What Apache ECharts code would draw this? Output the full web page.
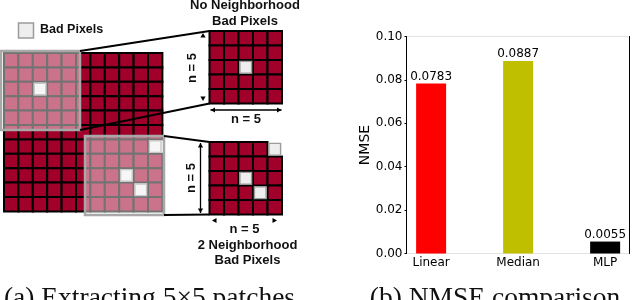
<!DOCTYPE html>
<html><head><meta charset="utf-8">
<script src="https://cdn.jsdelivr.net/npm/echarts@6/dist/echarts.min.js"></script>
<style>html,body{margin:0;padding:0;background:#fff}#c{width:632px;height:300px}</style>
</head><body><div id="c"></div><script>
// ---- bar chart data ----
const methods = ['Linear', 'Median', 'MLP'];
const nmse = [0.0783, 0.0887, 0.0055];
const barColors = ['#ff0000', '#bfbf00', '#000000'];
const yTickStep = 0.02;
const yMax = 0.10;

// ---- diagram data ----
const bigGridSize = 11;
const patchSize = 5;
const patchOrigins = [[0, 0], [6, 6]];            // top-left cell (row, col) of each patch
const bigBadPixels = [[2, 2], [6, 10], [8, 8], [9, 9]];

// ---- layout (pixel space of the diagram grid) ----
const L = {
  big: { x: 4, y: 53, p: 14.4 },
  patches: [{ x: 209.5, y: 31, p: 14.5 }, { x: 209.5, y: 142, p: 14.5 }],
  boxes: [{ x: 1, y: 51, w: 79, h: 79 }, { x: 85, y: 136, w: 79, h: 79 }],
  arrows: [
    { x1: 203, y1: 33, x2: 203, y2: 101, shaft: false },
    { x1: 210.5, y1: 110, x2: 281.5, y2: 110, shaft: true },
    { x1: 200.5, y1: 143, x2: 200.5, y2: 213, shaft: true },
    { x1: 212, y1: 220.5, x2: 277, y2: 220.5, shaft: false }
  ]
};

const isBad = (r, c) => bigBadPixels.some(b => b[0] === r && b[1] === c);

// cell items: [gridKind, row, col, bad]
const cellData = [];
const badCells = [];
for (let r = 0; r < bigGridSize; r++) for (let c = 0; c < bigGridSize; c++) {
  (isBad(r, c) ? badCells : cellData).push([0, r, c, isBad(r, c) ? 1 : 0]);
}
patchOrigins.forEach((o, k) => {
  for (let r = 0; r < patchSize; r++) for (let c = 0; c < patchSize; c++) {
    const b = isBad(o[0] + r, o[1] + c);
    (b ? badCells : cellData).push([k + 1, r, c, b ? 1 : 0]);
  }
});
const allCells = cellData.concat(badCells);

function cellItem(params, api) {
  const g = api.value(0), r = api.value(1), c = api.value(2), bad = api.value(3);
  const G = g === 0 ? L.big : L.patches[g - 1];
  const p0 = api.coord([G.x + c * G.p, G.y + r * G.p]);
  const p1 = api.coord([G.x + (c + 1) * G.p, G.y + (r + 1) * G.p]);
  if (bad) {
    const ins = 1.4;
    return { type: 'rect', shape: { x: p0[0] + ins, y: p0[1] + ins, width: p1[0] - p0[0] - 2 * ins, height: p1[1] - p0[1] - 2 * ins },
      style: { fill: '#eeeeee', stroke: '#9c9c9c', lineWidth: 1.4 } };
  }
  return { type: 'rect', shape: { x: p0[0], y: p0[1], width: p1[0] - p0[0], height: p1[1] - p0[1] },
    style: { fill: '#a0002a', stroke: '#000', lineWidth: 2 } };
}

function boxItem(params, api) {
  const B = L.boxes[api.value(0)];
  const p0 = api.coord([B.x, B.y]);
  const p1 = api.coord([B.x + B.w, B.y + B.h]);
  return { type: 'rect', shape: { x: p0[0], y: p0[1], width: p1[0] - p0[0], height: p1[1] - p0[1] },
    style: { fill: 'rgba(255,255,255,0.45)', stroke: '#a8a8a8', lineWidth: 2.5 } };
}

function connectorItem(params, api) {
  const k = api.value(0);
  const B = L.boxes[k], P = L.patches[k];
  const size = P.p * patchSize;
  const a = api.coord([B.x + B.w, B.y]), b = api.coord([P.x, P.y]);
  const c = api.coord([B.x + B.w, B.y + B.h]), d = api.coord([P.x, P.y + size]);
  return { type: 'group', children: [
    { type: 'line', shape: { x1: a[0], y1: a[1], x2: b[0], y2: b[1] }, style: { stroke: '#000', lineWidth: 2 } },
    { type: 'line', shape: { x1: c[0], y1: c[1], x2: d[0], y2: d[1] }, style: { stroke: '#000', lineWidth: 2 } }
  ] };
}

function arrowItem(params, api) {
  const A = L.arrows[api.value(0)];
  const s = api.coord([A.x1, A.y1]), e = api.coord([A.x2, A.y2]);
  const dx = e[0] - s[0], dy = e[1] - s[1];
  const len = Math.hypot(dx, dy), ux = dx / len, uy = dy / len;
  const hl = 4.5, hw = 2.6;
  const head = (tip, sx, sy) => ({ type: 'polygon', shape: { points: [
    [tip[0], tip[1]],
    [tip[0] - sx * hl - sy * hw, tip[1] - sy * hl + sx * hw],
    [tip[0] - sx * hl + sy * hw, tip[1] - sy * hl - sx * hw]
  ] }, style: { fill: '#000' } });
  const ch = [head(e, ux, uy), head(s, -ux, -uy)];
  if (A.shaft) ch.push({ type: 'line', shape: { x1: s[0], y1: s[1], x2: e[0], y2: e[1] }, style: { stroke: '#000', lineWidth: 1.3 } });
  return { type: 'group', children: ch };
}

const boldFont = 'bold 13px "Liberation Sans", Arial, sans-serif';
function txt(text, x, y, opts = {}) {
  return { type: 'text', x, y, rotation: opts.rot || 0, z: 100,
    style: { text, font: opts.font || boldFont, fill: '#111', align: opts.align || 'center', verticalAlign: 'middle',
      textAlign: opts.align || 'center', textVerticalAlign: 'middle' } };
}
const serif = '27.5px "Liberation Serif", "Times New Roman", serif';
const dejavu = '"DejaVu Sans", sans-serif';

const chart = echarts.init(document.getElementById('c'), null, { renderer: 'canvas' });
chart.setOption({
  animation: false,
  backgroundColor: '#fff',
  grid: [
    { left: 406.5, top: 36.5, width: 223, height: 217, show: false, containLabel: false, outerBoundsMode: 'none' },
    { left: 0, top: 0, width: 340, height: 300, show: false, containLabel: false, outerBoundsMode: 'none' }
  ],
  xAxis: [
    { gridIndex: 0, type: 'value', min: -0.283, max: 2.28, position: 'bottom',
      axisLine: { show: true, onZero: false, lineStyle: { color: '#e3e3e3', width: 1 } },
      axisTick: { show: false }, splitLine: { show: false },
      axisLabel: { customValues: [0, 1, 2], formatter: v => methods[Math.round(v)], margin: 3,
        color: '#000', fontSize: 12, fontFamily: dejavu } },
    { gridIndex: 0, type: 'value', min: -0.283, max: 2.28, position: 'top',
      axisLine: { show: true, onZero: false, lineStyle: { color: '#e3e3e3', width: 1 } },
      axisTick: { show: false }, splitLine: { show: false }, axisLabel: { show: false } },
    { gridIndex: 1, type: 'value', min: 0, max: 340, show: false }
  ],
  yAxis: [
    { gridIndex: 0, type: 'value', min: 0, max: yMax, interval: yTickStep, position: 'left', z: 5,
      name: 'NMSE', nameLocation: 'middle', nameGap: 34, nameRotate: 90,
      nameTextStyle: { color: '#000', fontSize: 14, fontFamily: dejavu },
      axisLine: { show: true, onZero: false, lineStyle: { color: '#000', width: 1 } },
      axisTick: { show: true, length: 2, lineStyle: { color: '#000' } },
      splitLine: { show: false },
      axisLabel: { formatter: v => v.toFixed(2), margin: 4, color: '#000', fontSize: 12, fontFamily: dejavu } },
    { gridIndex: 0, type: 'value', min: 0, max: yMax, position: 'right', z: 5,
      axisLine: { show: true, onZero: false, lineStyle: { color: '#000', width: 1 } },
      axisTick: { show: false }, axisLabel: { show: false }, splitLine: { show: false } },
    { gridIndex: 1, type: 'value', min: 0, max: 300, inverse: true, show: false }
  ],
  series: [
    { type: 'bar', xAxisIndex: 0, yAxisIndex: 0, barWidth: 30,
      data: nmse.map((v, i) => ({ value: [i, v], itemStyle: { color: barColors[i] } })),
      label: { show: true, position: 'top', distance: 1, color: '#000', fontSize: 12, fontFamily: dejavu,
        formatter: p => p.value[1].toFixed(4) } },
    { type: 'custom', xAxisIndex: 2, yAxisIndex: 2, renderItem: cellItem, data: allCells, z: 2 },
    { type: 'custom', xAxisIndex: 2, yAxisIndex: 2, renderItem: boxItem, data: [[0], [1]], z: 3 },
    { type: 'custom', xAxisIndex: 2, yAxisIndex: 2, renderItem: connectorItem, data: [[0], [1]], z: 4 },
    { type: 'custom', xAxisIndex: 2, yAxisIndex: 2, renderItem: arrowItem, data: L.arrows.map((a, i) => [i]), z: 4 }
  ],
  graphic: [
    { type: 'rect', shape: { x: 18.5, y: 23, width: 15, height: 15 }, style: { fill: '#eeeeee', stroke: '#9c9c9c', lineWidth: 1.5 }, z: 100 },
    txt('Bad Pixels', 40, 30, { align: 'left', font: 'bold 12.5px "Liberation Sans", Arial, sans-serif' }),
    txt('No Neighborhood', 245, 5.5),
    txt('Bad Pixels', 245, 21),
    txt('n = 5', 192.5, 68, { rot: Math.PI / 2 }),
    txt('n = 5', 246, 119),
    txt('n = 5', 191.5, 178, { rot: Math.PI / 2 }),
    txt('n = 5', 244.5, 229),
    txt('2 Neighborhood', 247.5, 245),
    txt('Bad Pixels', 247.5, 260),
    txt('(a) Extracting 5×5 patches', 149.5, 299, { font: serif }),
    txt('(b) NMSE comparison', 495, 299, { font: serif })
  ]
});
</script></body></html>
